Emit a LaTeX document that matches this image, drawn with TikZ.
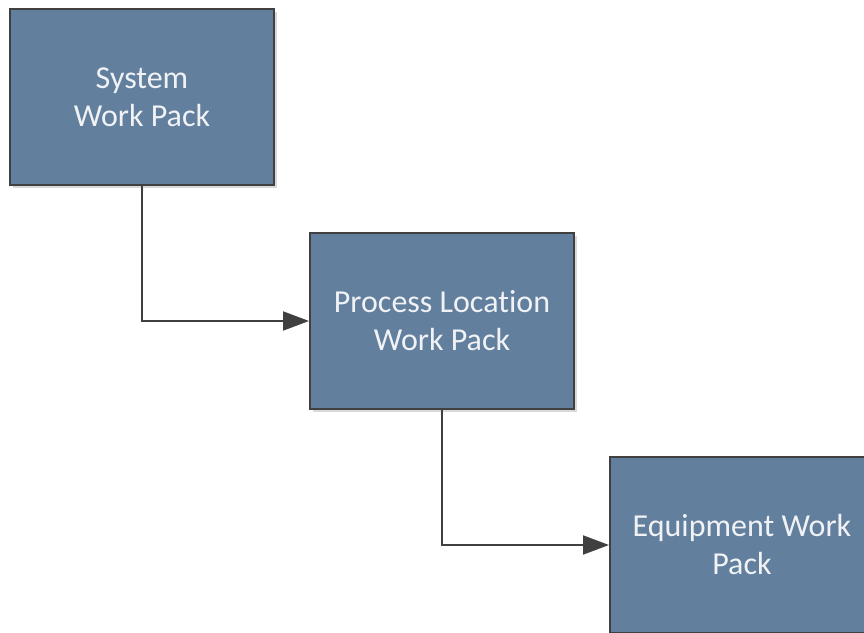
\documentclass[tikz,border=0pt]{standalone}
\usepackage{fontspec}
\setmainfont[Ligatures=NoCommon]{Carlito}
\usepackage{tikz}
\usetikzlibrary{arrows.meta,shadows}

\definecolor{packfill}{RGB}{98,127,158}
\definecolor{packline}{RGB}{64,64,64}
\definecolor{packtext}{RGB}{240,242,245}

\begin{document}
\begin{tikzpicture}[x=0.5pt,y=-0.5pt,
	pack/.style={shape=rectangle,draw=packline,line width=1pt,fill=packfill,
		minimum width=132pt,minimum height=88pt,align=center,text=packtext,
		font=\fontsize{16}{19}\selectfont,
		drop shadow={shadow xshift=1.5pt,shadow yshift=-1.5pt,fill=black!25,opacity=0.6}},
	link/.style={draw=packline,line width=1pt,-{Triangle[length=13pt,width=9.5pt]}}]
	
	\clip (0,0) rectangle (864,633);
	
	\node[pack] (sys)   at (142, 97)  {System\\Work Pack};
	\node[pack] (proc)  at (442, 321) {Process Location\\Work Pack};
	\node[pack] (equip) at (742, 545) {Equipment Work\\Pack};
	
	\path[link] (sys.south)  |- (proc.west);
	\path[link] (proc.south) |- (equip.west);
	
\end{tikzpicture}
\end{document}
